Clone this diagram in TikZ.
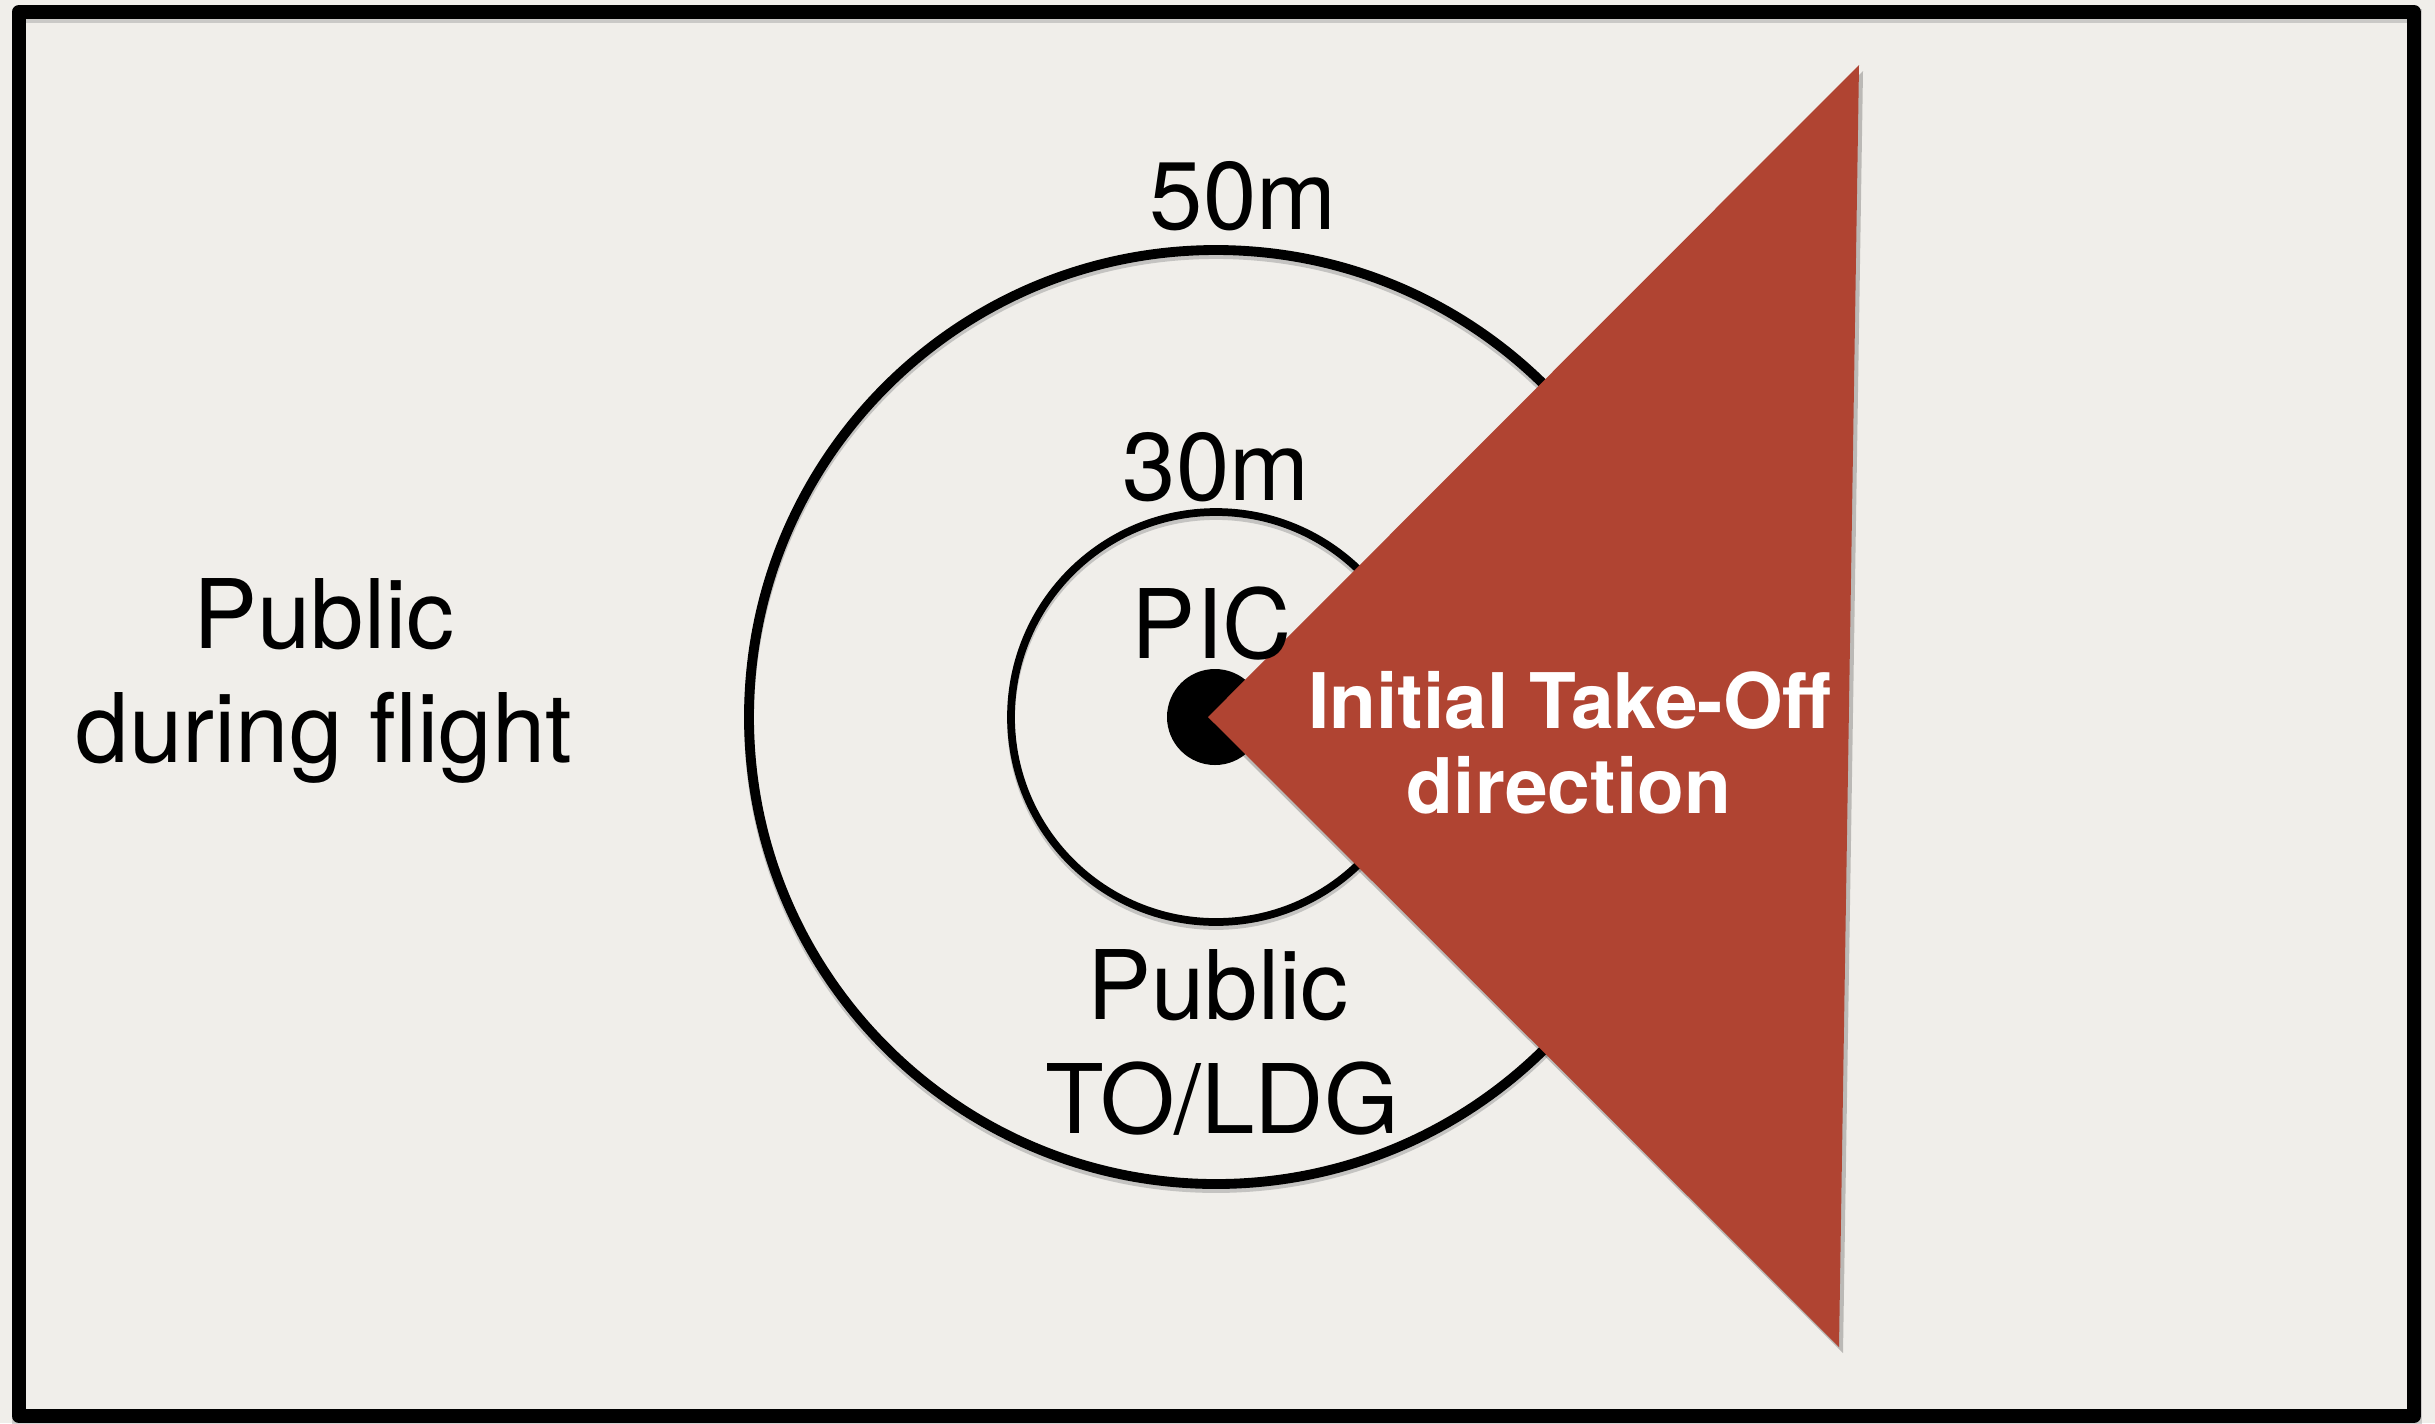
\documentclass[tikz,border=0pt]{standalone}
\usepackage{fontspec}
\usetikzlibrary{calc}
\setmainfont{TeX Gyre Heros}
\definecolor{paper}{HTML}{F0EEEA}
\definecolor{tored}{HTML}{B04432}
\tikzset{
  lighttext/.style={anchor=base, inner sep=0pt, text=black, font=\fontsize{27.3pt}{32pt}\selectfont},
  boldtext/.style={anchor=base, inner sep=0pt, text=white, font=\bfseries\fontsize{21.8pt}{25pt}\selectfont},
  chalk/.style={draw=black, line cap=round, line join=round},
}
\begin{document}
\begin{tikzpicture}[x=0.01cm, y=-0.01cm]
\useasboundingbox (0,0) rectangle (2435,1423);
\fill[paper] (0,0) rectangle (2435,1423);
% frame shadow and frame
\draw[black!35, opacity=0.5, line width=4pt] (19,16) rectangle (2415,1419);
\draw[chalk, line width=4pt] (19,12) rectangle (2414,1416);
% circles
\coordinate (c) at (1216,717);
\draw[black!40, opacity=0.5, line width=2.8pt] ($(c)+(0,4)$) circle (467);
\draw[black!40, opacity=0.5, line width=2.2pt] ($(c)+(0,4)$) circle (205);
\draw[chalk, line width=2.8pt] (c) circle (467);
\draw[chalk, line width=2.2pt] (c) circle (205);
% pilot dot
\fill[black] (1215,717) circle (48);
% triangle shadow and triangle
\coordinate (apex) at (1208,717);
\coordinate (ttop) at (1859,65);
\coordinate (tbot) at (1839,1347);
\fill[black, opacity=0.22] ($(apex)+(2,6)$) -- ($(ttop)+(4,6)$) -- ($(tbot)+(4,6)$) -- cycle;
\fill[tored] (apex) -- (ttop) -- (tbot) -- cycle;
% labels
\node[lighttext] (l50) at (1243,229) {50m};
\node[lighttext] (l30) at (1216,500) {30m};
\node[lighttext] (pic) at (1212,658) {PIC};
\node[lighttext] (pub1) at (324,648) {Public};
\node[lighttext] (pub2) at (324,762) {during flight};
\node[lighttext] (tol1) at (1218,1019) {Public};
\node[lighttext] (tol2) at (1222,1133) {TO/LDG};
\node[boldtext] (ito1) at (1570,728) {Initial Take-Off};
\node[boldtext] (ito2) at (1569,813) {direction};
\end{tikzpicture}
\end{document}
